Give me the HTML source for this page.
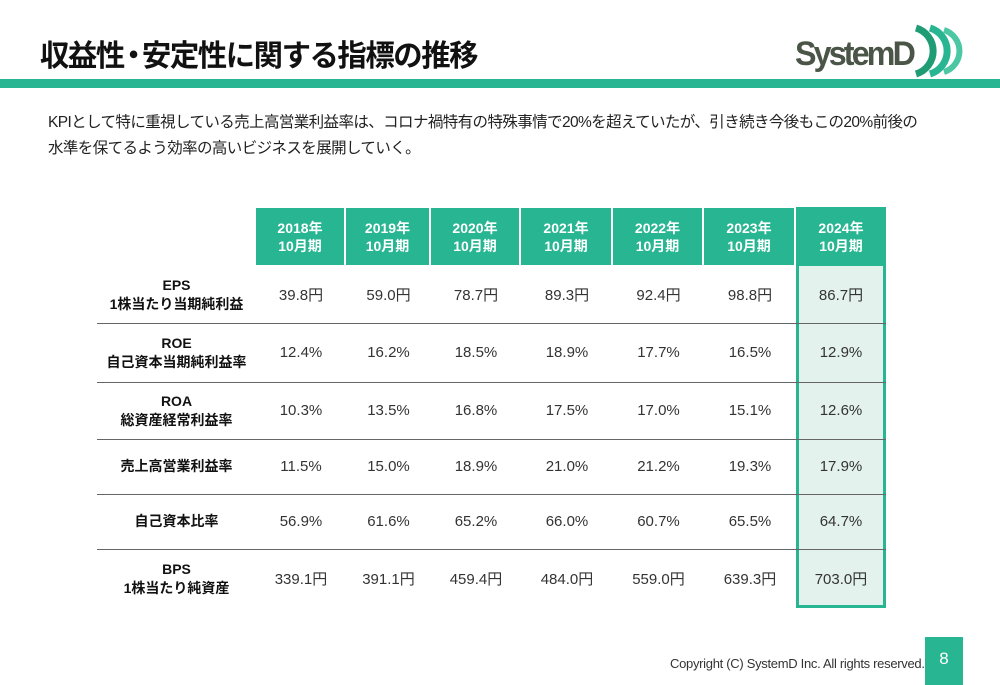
<!DOCTYPE html>
<html><head><meta charset="utf-8">
<style>
body{margin:0;width:1000px;height:685px;position:relative;background:#fff;overflow:hidden;font-family:"Liberation Sans","Noto Sans CJK JP",sans-serif;color:#222}
.a{position:absolute}
.title{left:40px;top:31px;font-size:30px;font-weight:bold;letter-spacing:-1.5px;color:#111;transform:scaleX(0.98);transform-origin:left top}
.bar{left:0;top:79px;width:1000px;height:9px;background:#27b592}
.para{left:48px;top:110px;font-size:15.5px;line-height:26px;color:#222;letter-spacing:-0.6px}
.hd{background:#27b592;color:#fff;font-weight:bold;font-size:14px;line-height:18px;text-align:center;display:flex;align-items:center;justify-content:center}
.lbl{font-weight:bold;font-size:14px;line-height:19px;text-align:center;display:flex;align-items:center;justify-content:center;color:#111}
.val{font-size:15px;text-align:center;display:flex;align-items:center;justify-content:center;color:#333}
.sep{height:1px;background:#666}
</style></head>
<body>
<div class="a title">収益性<span style="margin:0 -5px">・</span>安定性に関する指標の推移</div>
<svg class="a" style="left:790px;top:20px" width="180" height="60">
<text x="5" y="45" font-family="Liberation Sans, sans-serif" font-size="34" font-weight="bold" fill="#4a5548" letter-spacing="-3" textLength="118" lengthAdjust="spacingAndGlyphs">SystemD</text>
<path d="M126 8 A24 24 0 0 1 126 54" stroke="#1f9c73" stroke-width="7" fill="none"/>
<path d="M140 8 A24 24 0 0 1 140 54" stroke="#27b592" stroke-width="7" fill="none"/>
<path d="M154 10 A22 22 0 0 1 154 52" stroke="#4cc7a4" stroke-width="6" fill="none"/>
</svg>
<div class="a bar"></div>
<div class="a para">KPIとして特に重視している売上高営業利益率は、コロナ禍特有の特殊事情で20%を超えていたが、引き続き今後もこの20%前後の<br>水準を保てるよう効率の高いビジネスを展開していく。</div>
<div id="tbl"></div>
<div class="a" style="left:670px;top:656px;font-size:13px;color:#333;letter-spacing:-0.3px;width:250px;white-space:nowrap">Copyright (C) SystemD Inc. All rights reserved.</div>
<div class="a" style="left:925px;top:637px;width:38px;height:48px;background:#27b592;color:#fff;font-size:17px;text-align:center;line-height:44px">8</div>
<script>
const years=["2018年<br>10月期","2019年<br>10月期","2020年<br>10月期","2021年<br>10月期","2022年<br>10月期","2023年<br>10月期","2024年<br>10月期"];
const rowLabels=["EPS<br>1株当たり当期純利益","ROE<br>自己資本当期純利益率","ROA<br>総資産経常利益率","売上高営業利益率","自己資本比率","BPS<br>1株当たり純資産"];
const eps=["39.8円","59.0円","78.7円","89.3円","92.4円","98.8円","86.7円"];
const roe=["12.4%","16.2%","18.5%","18.9%","17.7%","16.5%","12.9%"];
const roa=["10.3%","13.5%","16.8%","17.5%","17.0%","15.1%","12.6%"];
const opm=["11.5%","15.0%","18.9%","21.0%","21.2%","19.3%","17.9%"];
const equity=["56.9%","61.6%","65.2%","66.0%","60.7%","65.5%","64.7%"];
const bps=["339.1円","391.1円","459.4円","484.0円","559.0円","639.3円","703.0円"];
const rows=[eps,roe,roa,opm,equity,bps];
const colX=[256,346,431,521,613,704,796,886];
const rowY=[266,323,382,439,494,549,608];
const t=document.getElementById('tbl');
function box(cls,x,y,w,h,html){const d=document.createElement('div');d.className='a '+cls;d.style.left=x+'px';d.style.top=y+'px';d.style.width=w+'px';d.style.height=h+'px';d.innerHTML=html||'';t.appendChild(d);return d;}
const hl=box('',colX[6],266,colX[7]-colX[6]-6,rowY[6]-266-3);
hl.style.background='#e3f2ec';hl.style.border='3px solid #27b592';hl.style.borderTop='none';


years.forEach((y,i)=>{const w=colX[i+1]-colX[i]-2;const d=box('hd',colX[i],i==6?207:208,i==6?w+2:w,i==6?59:57,y);

});
for(let r=1;r<6;r++){const s=box('sep',97,rowY[r],789,1);

}
rowLabels.forEach((l,r)=>{const d=box('lbl',97,rowY[r],159,rowY[r+1]-rowY[r],l);


rows[r].forEach((v,i)=>{const c=box('val',colX[i],rowY[r],colX[i+1]-colX[i],rowY[r+1]-rowY[r],v);

});});
</script>
</body></html>
